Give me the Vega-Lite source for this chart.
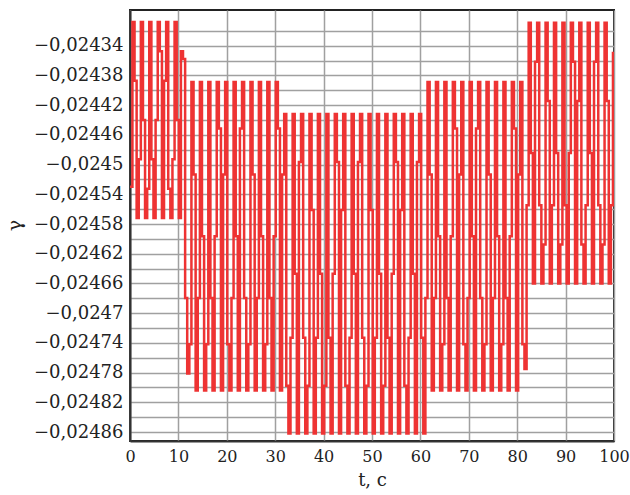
{
  "$schema": "https://vega.github.io/schema/vega-lite/v6.json",
  "autosize": "none",
  "padding": {"left": 130, "top": 10, "right": 16, "bottom": 54},
  "width": 484,
  "height": 431,
  "background": "white",
  "config": {
    "view": {"stroke": "#222222", "strokeWidth": 2},
    "font": "DejaVu Serif"
  },
  "data": {"values": [
    {"t": 0, "g": -0.02453},
    {"t": 0.50, "g": -0.024308}, {"t": 0.94, "g": -0.0243872}, {"t": 1.37, "g": -0.024572}, {"t": 1.81, "g": -0.0244928},
    {"t": 2.24, "g": -0.024308}, {"t": 2.68, "g": -0.02444}, {"t": 3.11, "g": -0.024572}, {"t": 3.55, "g": -0.0245324},
    {"t": 3.98, "g": -0.024308}, {"t": 4.42, "g": -0.0244928}, {"t": 4.85, "g": -0.024572}, {"t": 5.29, "g": -0.02444},
    {"t": 5.73, "g": -0.024308}, {"t": 6.16, "g": -0.0243476}, {"t": 6.60, "g": -0.024572}, {"t": 7.03, "g": -0.0243872},
    {"t": 7.47, "g": -0.024308}, {"t": 7.90, "g": -0.0245324}, {"t": 8.34, "g": -0.024572}, {"t": 8.77, "g": -0.0244928},
    {"t": 9.21, "g": -0.024308}, {"t": 9.65, "g": -0.02444}, {"t": 10.08, "g": -0.024572}, {"t": 10.52, "g": -0.0243476},
    {"t": 10.95, "g": -0.024358}, {"t": 11.39, "g": -0.0246795}, {"t": 11.82, "g": -0.024781}, {"t": 12.26, "g": -0.0247418},
    {"t": 12.69, "g": -0.024389}, {"t": 13.13, "g": -0.0245135}, {"t": 13.56, "g": -0.024804}, {"t": 14.00, "g": -0.0246795},
    {"t": 14.44, "g": -0.024389}, {"t": 14.87, "g": -0.0245965}, {"t": 15.31, "g": -0.024804}, {"t": 15.74, "g": -0.0247418},
    {"t": 16.18, "g": -0.024389}, {"t": 16.61, "g": -0.0246795}, {"t": 17.05, "g": -0.024804}, {"t": 17.48, "g": -0.0245965},
    {"t": 17.92, "g": -0.024389}, {"t": 18.36, "g": -0.0244513}, {"t": 18.79, "g": -0.024804}, {"t": 19.23, "g": -0.0245135},
    {"t": 19.66, "g": -0.024389}, {"t": 20.10, "g": -0.0247418}, {"t": 20.53, "g": -0.024804}, {"t": 20.97, "g": -0.0246795},
    {"t": 21.40, "g": -0.024389}, {"t": 21.84, "g": -0.0245965}, {"t": 22.27, "g": -0.024804}, {"t": 22.71, "g": -0.0244513},
    {"t": 23.15, "g": -0.024389}, {"t": 23.58, "g": -0.0246795}, {"t": 24.02, "g": -0.024804}, {"t": 24.45, "g": -0.0247418},
    {"t": 24.89, "g": -0.024389}, {"t": 25.32, "g": -0.0245135}, {"t": 25.76, "g": -0.024804}, {"t": 26.19, "g": -0.0246795},
    {"t": 26.63, "g": -0.024389}, {"t": 27.07, "g": -0.0245965}, {"t": 27.50, "g": -0.024804}, {"t": 27.94, "g": -0.0247418},
    {"t": 28.37, "g": -0.024389}, {"t": 28.81, "g": -0.0246795}, {"t": 29.24, "g": -0.024804}, {"t": 29.68, "g": -0.0245965},
    {"t": 30.11, "g": -0.024389}, {"t": 30.55, "g": -0.0244513}, {"t": 30.98, "g": -0.024804}, {"t": 31.42, "g": -0.0245135},
    {"t": 31.86, "g": -0.024432}, {"t": 32.29, "g": -0.0247975}, {"t": 32.73, "g": -0.024862}, {"t": 33.16, "g": -0.024733},
    {"t": 33.60, "g": -0.024432}, {"t": 34.03, "g": -0.024647}, {"t": 34.47, "g": -0.024862}, {"t": 34.90, "g": -0.0244965},
    {"t": 35.34, "g": -0.024432}, {"t": 35.78, "g": -0.024733}, {"t": 36.21, "g": -0.024862}, {"t": 36.65, "g": -0.0247975},
    {"t": 37.08, "g": -0.024432}, {"t": 37.52, "g": -0.024561}, {"t": 37.95, "g": -0.024862}, {"t": 38.39, "g": -0.024733},
    {"t": 38.82, "g": -0.024432}, {"t": 39.26, "g": -0.024647}, {"t": 39.69, "g": -0.024862}, {"t": 40.13, "g": -0.0247975},
    {"t": 40.57, "g": -0.024432}, {"t": 41.00, "g": -0.024733}, {"t": 41.44, "g": -0.024862}, {"t": 41.87, "g": -0.024647},
    {"t": 42.31, "g": -0.024432}, {"t": 42.74, "g": -0.0244965}, {"t": 43.18, "g": -0.024862}, {"t": 43.61, "g": -0.024561},
    {"t": 44.05, "g": -0.024432}, {"t": 44.49, "g": -0.0247975}, {"t": 44.92, "g": -0.024862}, {"t": 45.36, "g": -0.024733},
    {"t": 45.79, "g": -0.024432}, {"t": 46.23, "g": -0.024647}, {"t": 46.66, "g": -0.024862}, {"t": 47.10, "g": -0.0244965},
    {"t": 47.53, "g": -0.024432}, {"t": 47.97, "g": -0.024733}, {"t": 48.40, "g": -0.024862}, {"t": 48.84, "g": -0.0247975},
    {"t": 49.28, "g": -0.024432}, {"t": 49.71, "g": -0.024561}, {"t": 50.15, "g": -0.024862}, {"t": 50.58, "g": -0.024733},
    {"t": 51.02, "g": -0.024432}, {"t": 51.45, "g": -0.024647}, {"t": 51.89, "g": -0.024862}, {"t": 52.32, "g": -0.0247975},
    {"t": 52.76, "g": -0.024432}, {"t": 53.20, "g": -0.024733}, {"t": 53.63, "g": -0.024862}, {"t": 54.07, "g": -0.024647},
    {"t": 54.50, "g": -0.024432}, {"t": 54.94, "g": -0.0244965}, {"t": 55.37, "g": -0.024862}, {"t": 55.81, "g": -0.024561},
    {"t": 56.24, "g": -0.024432}, {"t": 56.68, "g": -0.0247975}, {"t": 57.11, "g": -0.024862}, {"t": 57.55, "g": -0.024733},
    {"t": 57.99, "g": -0.024432}, {"t": 58.42, "g": -0.024647}, {"t": 58.86, "g": -0.024862}, {"t": 59.29, "g": -0.0244965},
    {"t": 59.73, "g": -0.024432}, {"t": 60.16, "g": -0.024733}, {"t": 60.60, "g": -0.024862}, {"t": 61.03, "g": -0.0246795},
    {"t": 61.47, "g": -0.024389}, {"t": 61.91, "g": -0.0245135}, {"t": 62.34, "g": -0.024804}, {"t": 62.78, "g": -0.0246795},
    {"t": 63.21, "g": -0.024389}, {"t": 63.65, "g": -0.0245965}, {"t": 64.08, "g": -0.024804}, {"t": 64.52, "g": -0.0247418},
    {"t": 64.95, "g": -0.024389}, {"t": 65.39, "g": -0.0246795}, {"t": 65.82, "g": -0.024804}, {"t": 66.26, "g": -0.0245965},
    {"t": 66.70, "g": -0.024389}, {"t": 67.13, "g": -0.0244513}, {"t": 67.57, "g": -0.024804}, {"t": 68.00, "g": -0.0245135},
    {"t": 68.44, "g": -0.024389}, {"t": 68.87, "g": -0.0247418}, {"t": 69.31, "g": -0.024804}, {"t": 69.74, "g": -0.0246795},
    {"t": 70.18, "g": -0.024389}, {"t": 70.62, "g": -0.0245965}, {"t": 71.05, "g": -0.024804}, {"t": 71.49, "g": -0.0244513},
    {"t": 71.92, "g": -0.024389}, {"t": 72.36, "g": -0.0246795}, {"t": 72.79, "g": -0.024804}, {"t": 73.23, "g": -0.0247418},
    {"t": 73.66, "g": -0.024389}, {"t": 74.10, "g": -0.0245135}, {"t": 74.53, "g": -0.024804}, {"t": 74.97, "g": -0.0246795},
    {"t": 75.41, "g": -0.024389}, {"t": 75.84, "g": -0.0245965}, {"t": 76.28, "g": -0.024804}, {"t": 76.71, "g": -0.0247418},
    {"t": 77.15, "g": -0.024389}, {"t": 77.58, "g": -0.0246795}, {"t": 78.02, "g": -0.024804}, {"t": 78.45, "g": -0.0245965},
    {"t": 78.89, "g": -0.024389}, {"t": 79.33, "g": -0.0244513}, {"t": 79.76, "g": -0.024804}, {"t": 80.20, "g": -0.0245135},
    {"t": 80.63, "g": -0.024389}, {"t": 81.07, "g": -0.0247418}, {"t": 81.50, "g": -0.024775}, {"t": 81.94, "g": -0.0245547},
    {"t": 82.37, "g": -0.024309}, {"t": 82.81, "g": -0.0244845}, {"t": 83.24, "g": -0.02466}, {"t": 83.68, "g": -0.0243617},
    {"t": 84.12, "g": -0.024309}, {"t": 84.55, "g": -0.0245547}, {"t": 84.99, "g": -0.02466}, {"t": 85.42, "g": -0.0246074},
    {"t": 85.86, "g": -0.024309}, {"t": 86.29, "g": -0.0244143}, {"t": 86.73, "g": -0.02466}, {"t": 87.16, "g": -0.0245547},
    {"t": 87.60, "g": -0.024309}, {"t": 88.04, "g": -0.0244845}, {"t": 88.47, "g": -0.02466}, {"t": 88.91, "g": -0.0246074},
    {"t": 89.34, "g": -0.024309}, {"t": 89.78, "g": -0.0245547}, {"t": 90.21, "g": -0.02466}, {"t": 90.65, "g": -0.0244845},
    {"t": 91.08, "g": -0.024309}, {"t": 91.52, "g": -0.0243617}, {"t": 91.95, "g": -0.02466}, {"t": 92.39, "g": -0.0244143},
    {"t": 92.83, "g": -0.024309}, {"t": 93.26, "g": -0.0246074}, {"t": 93.70, "g": -0.02466}, {"t": 94.13, "g": -0.0245547},
    {"t": 94.57, "g": -0.024309}, {"t": 95.00, "g": -0.0244845}, {"t": 95.44, "g": -0.02466}, {"t": 95.87, "g": -0.0243617},
    {"t": 96.31, "g": -0.024309}, {"t": 96.75, "g": -0.0245547}, {"t": 97.18, "g": -0.02466}, {"t": 97.62, "g": -0.0246074},
    {"t": 98.05, "g": -0.024309}, {"t": 98.49, "g": -0.0244143}, {"t": 98.92, "g": -0.02466}, {"t": 99.36, "g": -0.0245547},
    {"t": 99.79, "g": -0.02435}, {"t": 100, "g": -0.02435}
  ]},
  "mark": {"type": "line", "interpolate": "step-after", "color": "#ee3333", "strokeWidth": 2.5, "clip": true},
  "encoding": {
    "x": {
      "field": "t", "type": "quantitative",
      "scale": {"domain": [0, 100], "nice": false},
      "axis": {
        "title": "t, c",
        "values": [0, 10, 20, 30, 40, 50, 60, 70, 80, 90, 100],
        "ticks": false,
        "labelFont": "DejaVu Serif", "labelFontSize": 16, "labelColor": "#222222", "labelPadding": 7,
        "labelFlush": false,
        "titleFont": "DejaVu Serif", "titleFontSize": 18, "titleFontWeight": "normal", "titleColor": "#222222", "titlePadding": 7,
        "domainColor": "#333333", "domainWidth": 2,
        "gridColor": "#a0a0a0", "gridWidth": 1.5, "gridOpacity": 1
      }
    },
    "y": {
      "field": "g", "type": "quantitative",
      "scale": {"domain": [-0.024872, -0.024292], "nice": false, "zero": false},
      "axis": {
        "title": "γ",
        "values": [-0.02486, -0.02484, -0.02482, -0.0248, -0.02478, -0.02476, -0.02474, -0.02472, -0.0247, -0.02468, -0.02466, -0.02464, -0.02462, -0.0246, -0.02458, -0.02456, -0.02454, -0.02452, -0.0245, -0.02448, -0.02446, -0.02444, -0.02442, -0.0244, -0.02438, -0.02436, -0.02434, -0.02432],
        "labelExpr": "abs(round(datum.value * 100000)) % 4 == 2 ? replace(format(datum.value, '.5~f'), '.', ',') : ''",
        "ticks": false,
        "labelFont": "DejaVu Serif", "labelFontSize": 18, "labelColor": "#222222", "labelPadding": 7,
        "labelFlush": false,
        "titleFont": "DejaVu Serif", "titleFontSize": 19, "titleFontWeight": "normal", "titleColor": "#222222",
        "titleX": -106, "titleY": 215, "titleAngle": -90,
        "domainColor": "#333333", "domainWidth": 2,
        "gridColor": "#a0a0a0", "gridWidth": 1.5, "gridOpacity": 1
      }
    }
  }
}
